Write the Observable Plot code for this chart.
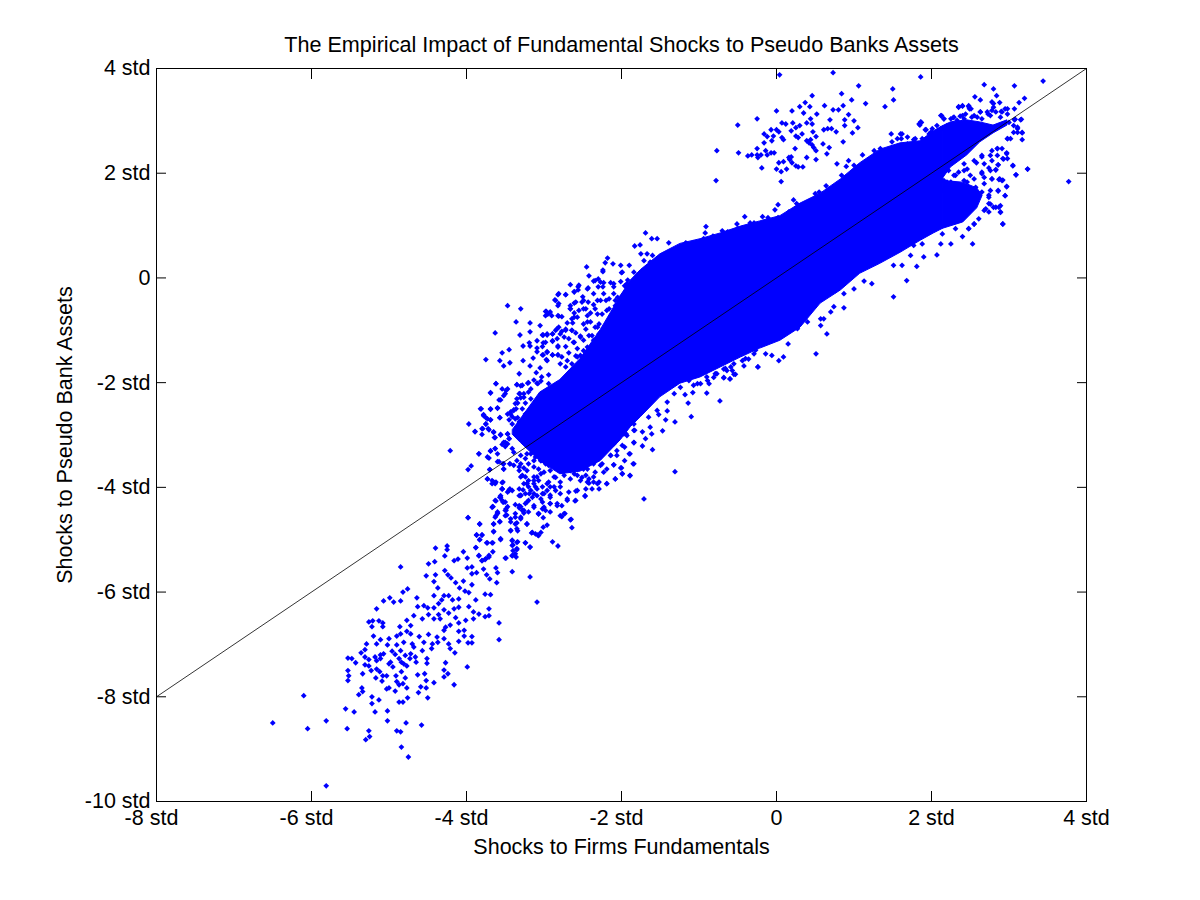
<!DOCTYPE html>
<html><head><meta charset="utf-8">
<script src="https://cdn.jsdelivr.net/npm/d3@7"></script>
<script src="https://cdn.jsdelivr.net/npm/@observablehq/plot@0.6"></script>
<style>html,body{margin:0;padding:0;background:#fff}svg{display:block}</style>
</head><body><div id="chart"></div>
<script>
const xTicks=[-8,-6,-4,-2,0,2,4];
const yTicks=[-10,-8,-6,-4,-2,0,2,4];
const titleText="The Empirical Impact of Fundamental Shocks to Pseudo Banks Assets";
const xLabel="Shocks to Firms Fundamentals";
const yLabel="Shocks to Pseudo Bank Assets";
const identityLine=[[-8,-8],[4,4]];

// The saturated core cannot be read point by point: its outline is estimated from the picture.
const coreX=[-3.40,-3.30,-3.05,-2.79,-2.53,-2.27,-2.01,-1.88,-1.75,-1.50,-1.24,-0.98,-0.72,-0.46,-0.21,0.05,0.31,0.57,0.83,1.08,1.34,1.60,1.86,2.03,2.15];
const coreTop=[-2.90,-2.70,-2.19,-1.95,-1.55,-1.00,-0.35,-0.05,0.15,0.45,0.65,0.74,0.85,0.98,1.08,1.18,1.42,1.61,1.88,2.19,2.45,2.57,2.61,2.80,2.90];
const coreBottom=[-3.00,-3.15,-3.50,-3.75,-3.70,-3.50,-3.10,-2.85,-2.66,-2.28,-2.02,-1.90,-1.71,-1.52,-1.35,-1.20,-0.95,-0.49,-0.24,0.08,0.27,0.48,0.71,0.85,0.94];
const upperLobeX=[2.15,2.25,2.46,2.63,2.80,2.98];
const upperLobeTop=[2.90,2.97,3.01,2.97,2.91,3.01];
const upperLobeBottom=[1.90,2.11,2.34,2.59,2.76,2.91];
const lowerLobeX=[2.15,2.41,2.59,2.66];
const lowerLobeTop=[1.85,1.82,1.71,1.57];
const lowerLobeBottom=[0.94,1.06,1.33,1.57];

const tailPoints=[[-6.50,-8.50],[-6.10,-7.98],[-6.05,-8.61],[-5.81,-8.46],[-5.81,-9.70],[-5.56,-8.23],[-5.54,-8.61],[-5.45,-8.29],[-5.39,-7.96],[-5.34,-7.90],[-5.35,-7.83],[-5.22,-8.00],[-5.22,-8.13],[-5.13,-8.06],[-5.18,-8.29],[-5.02,-8.27],[-5.02,-8.46],[-5.26,-8.65],[-5.25,-8.76],[-5.30,-8.82],[-4.90,-8.65],[-4.85,-8.67],[-4.78,-8.50],[-4.58,-8.54],[-4.84,-8.96],[-4.75,-9.15],[-4.87,-8.10],[-4.82,-8.10],[-4.76,-8.02],[-4.50,-8.02],[-4.62,-7.92],[-4.52,-7.83],[-4.59,-7.81],[-4.16,-7.77],[-4.42,-7.73],
[-4.85,-5.52],[-4.40,-5.16],[-4.25,-5.12],[-4.25,-5.19],[-4.28,-5.31],[-4.49,-5.46],[-4.41,-5.42],[-4.16,-5.40],[-4.11,-5.37],[-4.04,-5.23],[-3.99,-5.35],[-3.98,-4.58],[-3.87,-4.91],[-3.80,-4.91],[-3.83,-5.00],[-3.88,-5.15],[-3.74,-5.06],[-3.66,-5.06],[-3.84,-5.31],[-3.66,-5.23],[-3.71,-5.33],[-3.76,-5.38],[-3.80,-5.40],[-3.62,-5.54],[-3.60,-5.63],[-3.41,-5.61],[-3.78,-5.56],[-3.74,-5.67],[-3.70,-5.75],[-3.61,-5.82],[-3.18,-5.71],[-3.09,-6.19],[-3.58,-6.59],[-3.58,-6.91],[-3.49,-5.35],[-3.41,-5.31],[-3.36,-5.33],[-3.35,-5.19],[-3.18,-5.14],[-3.24,-5.06],[-3.34,-5.04],[-3.41,-5.02],[-3.40,-5.10],[-3.56,-5.00],[-3.65,-4.85],[-3.65,-4.70],[-3.57,-4.66],[-3.83,-4.70],[-3.62,-4.54],[-3.60,-4.49],[-3.48,-4.53],[-3.49,-4.41],[-3.66,-4.37],[-3.62,-4.26],[-3.56,-4.16],[-3.53,-4.28],[-3.45,-4.05],[-3.54,-4.03],[-3.65,-3.90],[-3.53,-3.90],[-3.43,-4.60],[-3.35,-4.68],[-3.30,-4.60],[-3.22,-4.70],[-3.43,-4.83],[-3.34,-4.83],[-3.16,-4.87],[-3.08,-4.91],[-3.32,-4.39],[-3.26,-4.49],[-3.32,-4.16],[-3.22,-4.28],[-3.13,-4.35],[-3.07,-4.51],[-3.27,-4.05],[-3.13,-4.12],[-3.22,-3.93],[-3.09,-4.03],
[-5.16,-6.32],[-5.07,-6.17],[-4.99,-6.11],[-4.94,-6.19],[-4.85,-6.17],[-4.82,-6.00],[-4.76,-5.94],[-4.64,-6.11],[-4.63,-6.28],[-4.55,-6.26],[-4.50,-6.30],[-4.52,-5.69],[-4.42,-5.80],[-4.40,-5.67],[-4.37,-5.92],[-4.28,-5.59],[-4.24,-5.67],[-4.20,-5.73],[-4.14,-5.82],[-4.09,-5.92],[-4.04,-5.79],[-3.93,-5.65],[-3.87,-5.63],[-3.99,-5.54],[-3.93,-5.52],[-3.93,-5.86],[-4.02,-5.98],[-3.97,-6.01],[-3.88,-6.15],[-3.76,-6.04],[-3.69,-6.05],[-3.97,-6.28],[-3.91,-6.38],[-3.84,-6.42],[-3.71,-6.32],[-3.71,-6.45],[-3.76,-6.47],[-3.91,-6.51],
[-4.42,-6.07],[-4.29,-6.07],[-4.32,-6.15],[-4.36,-6.22],[-4.42,-6.30],[-4.23,-6.07],[-4.18,-6.15],[-4.10,-6.13],[-4.16,-6.32],[-4.10,-6.29],[-4.23,-6.40],[-4.29,-6.34],[-4.36,-6.43],[-4.42,-6.51],[-4.49,-6.43],[-4.57,-6.51],[-4.68,-6.45],[-4.14,-6.49],[-4.01,-6.54],[-4.10,-6.59],[-4.21,-6.63],[-4.27,-6.67],[-4.34,-6.51],[-4.77,-6.54],[-4.72,-6.64],[-4.86,-6.66],[-5.26,-6.57],[-5.21,-6.55],[-5.13,-6.55],[-5.08,-6.59],[-5.22,-6.66],[-5.08,-6.66],
[-5.20,-6.84],[-5.29,-6.99],[-5.16,-6.99],[-5.11,-6.91],[-5.00,-6.89],[-5.02,-7.01],[-4.90,-6.84],[-4.85,-6.80],[-4.77,-6.75],[-4.72,-6.80],[-4.61,-6.85],[-4.49,-6.81],[-4.38,-6.86],[-4.29,-6.73],[-4.10,-6.75],[-4.03,-6.73],[-4.03,-6.84],[-3.93,-6.85],[-3.98,-6.97],[-3.93,-6.97],[-4.10,-6.94],[-4.23,-6.99],[-4.21,-7.08],[-4.15,-7.16],[-4.29,-6.89],
[-4.81,-6.96],[-4.70,-6.99],[-4.55,-6.96],[-4.44,-6.99],[-4.37,-6.96],[-4.57,-7.12],[-4.45,-7.08],[-4.68,-7.05],[-4.90,-7.01],[-4.85,-7.12],[-4.96,-7.13],[-4.92,-7.19],[-4.79,-7.21],[-4.72,-7.18],[-4.66,-7.24],[-4.73,-7.27],[-4.65,-7.34],[-4.51,-7.27],[-4.51,-7.36],[-4.27,-7.35],[-3.99,-7.43],[-4.29,-7.49],[-4.24,-7.56],[-4.29,-7.62],
[-5.53,-7.26],[-5.48,-7.27],[-5.43,-7.35],[-5.36,-7.16],[-5.31,-7.10],[-5.31,-7.24],[-5.26,-7.29],[-5.31,-7.39],[-5.26,-7.41],[-5.18,-7.24],[-5.11,-7.20],[-5.07,-7.18],[-5.16,-7.31],[-5.11,-7.27],[-4.98,-7.34],[-5.00,-7.37],[-4.95,-7.43],[-4.87,-7.27],[-4.84,-7.34],[-4.81,-7.37],[-4.77,-7.41],[-4.84,-7.52],[-5.53,-7.50],[-5.52,-7.60],[-5.53,-7.69],[-5.34,-7.56],[-5.23,-7.50],[-5.16,-7.47],[-5.12,-7.52],[-5.08,-7.60],[-5.17,-7.64],[-5.09,-7.70],[-5.03,-7.60],[-4.91,-7.60],[-4.79,-7.64],[-4.63,-7.58],[-4.54,-7.56],[-4.52,-7.69],[-4.90,-7.71],[-4.87,-7.77],[-4.82,-7.75],[-5.00,-7.83],[-5.03,-7.85],[-4.92,-7.89],[-4.77,-7.83]];

const bumpPoints=[[0.04,3.88],[0.73,3.92],[1.86,3.84],[1.06,3.67],[1.50,3.61],[0.84,3.52],[0.46,3.48],[0.97,3.40],[1.51,3.40],[1.15,3.33],[1.40,3.27],[0.37,3.35],[0.62,3.29],[0.86,3.29],[0.30,3.27],[0.43,3.27],[0.00,3.19],[0.20,3.19],[0.35,3.15],[0.52,3.13],[0.73,3.21],[0.80,3.21],[0.93,3.12],[-0.25,3.04],[-0.50,2.92],[0.44,3.04],[0.69,3.02],[0.88,3.02],[1.00,3.00],[0.07,2.96],[0.12,2.94],[0.21,2.96],[0.39,2.96],[0.46,2.94],[0.25,2.87],[0.30,2.91],[0.88,2.91],[1.05,2.87],[-0.07,2.83],[0.00,2.83],[0.03,2.79],[0.19,2.81],[0.61,2.83],[0.66,2.85],[0.71,2.85],[0.77,2.79],[0.47,2.79],[0.98,2.77],[-0.16,2.75],[-0.12,2.70],[-0.04,2.71],[0.07,2.68],[0.09,2.64],[0.25,2.71],[0.28,2.68],[0.33,2.75],[0.51,2.70],[-0.16,2.58],[-0.06,2.62],[0.39,2.62],[0.44,2.64],[0.42,2.58],[0.60,2.56],[0.86,2.60],[0.46,2.54],[-0.25,2.47],[0.24,2.47],[0.48,2.49],[0.68,2.49],[-0.77,2.43],[-0.49,2.39],[-0.14,2.43],[-0.07,2.39],[-0.03,2.39],[0.51,2.43],[-0.12,2.35],[-0.37,2.33],[-0.32,2.35],[-0.25,2.35],[-0.20,2.35],[-0.24,2.30],[0.65,2.37],[0.39,2.30],[0.16,2.30],[0.19,2.31],[0.51,2.26],[0.17,2.26],[0.03,2.20],[0.09,2.22],[0.20,2.20],[0.78,2.18],[-0.19,2.10],[0.00,2.08],[0.13,2.08],[0.25,2.14],[0.28,2.12],[0.34,2.12],[0.06,2.03],[-0.78,1.86],[0.06,1.84]];

const rightPoints=[[3.77,1.84],[3.44,3.76],[3.07,3.67],[2.68,3.69],[2.80,3.61],[2.84,3.48],[2.56,3.46],[2.63,3.40],[2.88,3.35],[3.20,3.43],[3.13,3.35],[3.07,3.23],[2.95,3.23],[3.24,2.08],[3.09,1.97],[3.05,2.14],[2.97,1.74],[2.95,1.57],[2.92,1.03],[2.89,1.26],[2.53,0.65],[2.40,0.79],[2.25,0.65],[2.07,0.44],[2.48,0.94],[2.31,0.94],[2.55,1.03],[3.17,2.64],[3.17,2.77],[3.11,2.85],[3.15,3.02],[3.07,3.02],[2.98,2.28],[2.98,2.66],[2.97,2.39],[2.92,2.28],[2.86,2.16],[2.83,2.07],[2.74,2.10],[2.78,1.89],[2.88,1.89],[2.92,1.87],[2.86,1.66],[2.74,1.58],[2.74,1.42],[2.80,1.35],[2.87,1.35],[2.68,1.29],[2.74,1.26],[2.68,1.80],[2.65,1.99],[2.55,1.89],[2.42,1.86],[2.31,1.96],[2.22,2.05],[2.29,1.80],[2.20,1.83],[2.46,2.08],[2.65,1.64],[2.78,2.24],[2.85,2.47],[2.65,2.31],[2.55,2.24],[2.42,2.18],[2.33,2.31]];

const lobePoints=[[2.13,3.10],[2.16,3.04],[1.87,2.97],[1.85,2.92],[1.92,2.83],[2.01,2.85],[2.01,2.78],[2.12,2.85],[2.18,2.88],[2.28,3.06],[2.27,2.94],[2.35,3.26],[2.40,3.28],[2.48,3.29],[2.51,3.23],[2.37,3.09],[2.44,3.13],[2.59,3.07],[2.63,3.17],[2.73,3.13],[2.78,3.20],[2.80,3.33],[2.90,3.18],[2.98,3.23],[2.98,3.13],[3.08,3.03],[3.16,3.03],[3.11,2.78],[3.17,2.78],[2.98,2.66],[1.78,2.64],[1.91,2.62],[2.03,2.69],
[2.49,3.23],[2.65,3.04],[2.76,3.10],[2.89,3.07],[3.00,2.97],[3.06,2.91],[3.06,2.78],[3.02,2.66],[3.11,2.88],[2.52,3.07],[2.83,3.17],[2.42,3.04],[2.33,3.01],[2.25,3.04],[2.20,2.91],[2.07,2.91],[1.97,2.75],[1.88,2.66],[1.79,2.66],[1.69,2.69],[1.62,2.75],[1.61,2.66],
[2.78,2.43],[2.85,2.47],[2.91,2.47],[2.97,2.37],[2.85,2.34],[2.93,2.27],[2.86,2.16],[3.05,2.15],[3.09,1.97],[3.24,2.08],[2.76,2.34],[2.65,2.34],[2.58,2.20],[2.68,2.18],[2.76,2.05],[2.83,2.06],[2.65,2.02],[2.68,1.92],[2.78,1.89],[2.87,1.88],[2.91,1.86],[2.97,1.75],[2.86,1.67],[2.95,1.57],[2.76,1.67],[2.74,1.54],[2.76,1.41],[2.83,1.35],[2.89,1.38],[2.70,1.32],[2.89,1.25],[2.92,1.03],[2.48,0.94],[2.55,1.03],[2.61,1.13],[2.50,1.96],[2.42,2.05],[2.35,2.02],[2.29,1.96],[2.46,1.83],[2.57,1.73],[2.48,1.73],[2.25,1.83],[2.16,1.86],[2.16,1.67],[2.35,1.73]];

const upperEdgePoints=[[2.12,3.10],[2.16,3.04],[2.35,3.27],[2.40,3.29],[2.48,3.27],[2.29,3.07],[2.40,3.10],[2.55,3.10],[2.63,3.17],[2.72,3.17],[2.78,3.36],[2.80,3.26],[2.91,3.17],[1.86,2.98],[1.84,2.94],[1.93,2.83],[1.99,2.78],[1.77,2.64],[1.90,2.63],[1.48,2.75],[1.60,2.75],[1.49,2.60],[1.56,2.66],[1.69,2.56],[1.34,2.47],[1.26,2.43],[1.11,2.35],[0.93,2.24],[0.90,2.13],[1.00,2.15],[0.84,1.96],[0.64,1.76],[0.74,1.73],[0.50,1.61],[0.55,1.64],[0.22,1.49],[0.26,1.42],[0.02,1.40],[-0.02,1.30],[-0.18,1.17],[-0.11,1.15],[0.02,1.15],[0.16,1.26],[-0.41,1.17],[-0.34,1.05],[-0.29,1.05],[-0.51,1.03],[-0.50,0.94],[-0.91,0.98],[-0.92,0.86],[-0.82,0.80],[-0.70,0.90],[-0.63,0.88],[-0.94,0.75],[-1.07,0.67],[-1.17,0.67],[-1.00,0.68],[-0.85,0.72],[-0.16,1.07],[-0.04,1.03],[0.35,1.38],[0.42,1.42],[0.68,1.70],
[-1.69,0.86],[-1.61,0.75],[-1.54,0.75],[-1.83,0.61],[-1.76,0.63],[-1.39,0.67],[-2.18,0.38],[-2.11,0.27],[-2.21,0.29],[-2.45,0.21],[-2.24,0.12],[-2.42,0.04],[-1.75,0.46],[-1.67,0.46],[-1.60,0.43],[-1.71,0.33],[-1.63,0.30],[-2.01,0.24],[-1.90,0.24],[-1.99,0.11],[-1.84,0.11],[-1.93,-0.11],[-2.10,-0.11],[-2.27,-0.08],[-2.34,-0.05],[-2.66,-0.13],[-2.55,-0.14],[-2.44,-0.21],[-2.61,-0.26],[-2.72,-0.32],[-2.82,-0.32],[-2.85,-0.43],[-2.82,-0.53],[-2.59,-0.46],[-2.66,-0.59],[-2.49,-0.43],[-2.31,-0.43],[-2.20,-0.43],[-2.08,-0.43],[-1.99,-0.34],[-2.46,-0.59],[-2.31,-0.69],[-2.19,-0.62],[-2.08,-0.62],[-2.61,-0.75],[-2.44,-0.84],[-2.31,-0.94],[-2.20,-0.94],[-2.10,-0.84],[-1.99,-0.81],[-2.97,-0.64],[-2.92,-0.65],[-2.98,-0.72],[-2.81,-0.73],[-2.72,-1.00],[-2.64,-1.00],[-2.83,-0.97],[-2.79,-1.07],[-2.53,-1.13],[-2.38,-1.10],[-2.61,-1.23],[-2.49,-1.39],[-2.57,-1.51],[-2.64,-1.64],[-2.72,-1.70],[-2.79,-1.64],[-2.36,-1.35],[-2.23,-1.42],[-2.10,-1.35]];

const speckleUpperPoints=[[-2.24,0.15],[-2.00,0.10],[-2.56,-0.17],[-2.56,-0.23],[-2.61,-0.27],[-2.43,-0.19],[-2.36,-0.06],[-2.30,-0.02],[-2.23,-0.09],[-2.30,-0.17],[-2.24,-0.17],[-2.14,-0.09],[-2.10,-0.17],[-2.01,-0.07],[-1.92,-0.04],[-1.96,-0.15],[-2.81,-0.30],[-2.72,-0.32],[-2.50,-0.36],[-2.36,-0.30],[-2.23,-0.30],[-2.10,-0.30],[-1.97,-0.30],[-2.86,-0.42],[-2.81,-0.49],[-2.61,-0.48],[-2.66,-0.53],[-2.51,-0.46],[-2.43,-0.46],[-2.36,-0.51],[-2.27,-0.43],[-2.16,-0.40],[-2.05,-0.37],[-1.92,-0.40],[-2.98,-0.64],[-2.95,-0.69],[-2.90,-0.72],[-2.82,-0.72],[-2.77,-0.74],[-2.66,-0.59],[-2.61,-0.67],[-2.55,-0.62],[-2.49,-0.59],[-2.40,-0.67],[-2.34,-0.59],[-2.25,-0.69],[-2.16,-0.59],[-2.08,-0.53],[-1.99,-0.62],[-2.64,-0.78],[-2.57,-0.75],[-2.44,-0.72],[-2.70,-0.86],[-2.63,-0.86],[-2.49,-0.88],[-2.40,-0.84],[-2.29,-0.88],[-2.14,-0.78],[-2.03,-0.75],[-2.81,-0.94],[-2.85,-1.00],[-2.77,-1.02],[-2.72,-0.98],[-2.64,-1.00],[-2.59,-1.05],[-2.46,-0.98],[-2.34,-0.94],[-2.19,-0.97],[-2.08,-0.91],[-3.02,-1.09],[-2.96,-1.09],[-2.89,-1.07],[-2.74,-1.13],[-2.68,-1.16],[-2.53,-1.11],[-2.42,-1.10],[-2.29,-1.07],[-2.14,-1.10],[-2.98,-1.23],[-2.89,-1.21],[-2.83,-1.16],[-2.62,-1.23],[-2.49,-1.19],[-2.36,-1.19],[-2.23,-1.16],[-3.02,-1.31],[-2.82,-1.30],[-2.72,-1.31],[-2.57,-1.35],[-2.68,-1.43],[-2.44,-1.32],[-2.96,-1.42],[-2.89,-1.47],[-2.82,-1.47],[-2.77,-1.51],[-2.70,-1.58],[-3.02,-1.47],[-2.59,-1.49],[-2.53,-1.48],[-2.36,-1.45],[-2.96,-1.58],[-2.49,-1.62]];

const lowerEdgePoints=[[1.51,-0.36],[1.68,-0.05],[1.23,-0.11],[0.51,-1.45],[0.65,-1.07],[0.87,-0.57],[0.74,-0.55],[0.70,-0.65],[0.57,-0.78],[0.61,-0.78],[0.57,-0.91],[-0.24,-1.70],[0.09,-1.51],[0.03,-1.58],[0.15,-1.26],[-0.06,-1.48],[-0.14,-1.45],[-0.53,-1.84],[-0.68,-1.91],[-0.60,-1.93],[-0.57,-1.77],[-0.66,-1.73],[-0.79,-1.83],[-0.90,-1.89],[-0.40,-1.54],[-0.27,-1.38],[0.40,-0.84],[0.27,-0.97],[1.13,-0.06],[1.00,-0.21],[0.87,-0.30],[0.76,-0.24],[1.51,0.24],[1.62,0.24],[1.81,0.22],[1.73,0.43],[1.90,0.40],[1.77,0.62],[1.88,0.65],[2.12,0.65],[2.14,0.84],
[-1.75,-2.56],[-1.65,-2.66],[-1.54,-2.53],[-1.41,-2.37],[-1.32,-2.21],[-1.24,-2.09],[-1.13,-1.96],[-1.02,-2.02],[-0.89,-1.96],[-0.81,-1.90],[-0.68,-1.74],[-0.55,-1.64],[-0.44,-1.58],[-0.29,-1.35],[-2.36,-3.30],[-2.23,-3.30],[-2.10,-3.17],[-1.97,-2.98],[-1.84,-2.79],[-2.44,-3.49],[-2.61,-3.49],[-2.74,-3.61],[-2.85,-3.49],[-2.94,-3.36]];

const leftScatterPoints=[[-4.21,-3.30],[-3.98,-3.66],[-3.94,-3.59],[-3.97,-2.79],[-3.89,-2.94],[-3.84,-3.36],[-3.79,-2.88],[-3.80,-2.99],[-3.75,-2.79],[-3.71,-2.90],[-3.65,-2.94],[-3.63,-3.05],[-3.81,-2.50],[-3.78,-2.61],[-3.75,-2.67],[-3.69,-2.71],[-3.69,-2.50],[-3.60,-2.48],[-3.57,-2.67],[-3.56,-2.99],[-3.69,-2.19],[-3.62,-2.02],[-3.56,-2.33],[-3.50,-2.21],[-3.47,-2.12],[-3.35,-2.04],[-3.30,-2.06],[-3.32,-1.83],[-3.75,-1.56],[-3.63,-1.05],[-3.54,-1.43],[-3.45,-1.37],[-3.57,-1.58],[-3.52,-1.68],[-3.44,-1.62],[-3.47,-0.53],[-3.30,-0.59],[-3.36,-0.84],[-3.18,-0.86],[-3.05,-0.91],[-3.31,-1.09],[-3.18,-1.03],[-3.27,-1.30],[-3.19,-1.24],[-3.18,-1.30],[-3.09,-1.20],[-3.27,-1.58],[-3.09,-1.34],[-3.01,-1.09],[-2.96,-1.07],[-2.89,-1.07],[-2.89,-1.20],[-3.01,-1.24],[-3.14,-1.53],[-3.09,-1.41],[-2.96,-1.41],[-3.01,-1.47],[-2.89,-1.47],[-2.82,-1.32],[-2.82,-1.47],[-2.97,-1.56],[-3.18,-1.68],[-3.10,-1.81],[-3.05,-1.72],[-3.03,-1.89],[-2.94,-1.85],[-3.20,-2.00],[-3.13,-1.95],[-3.08,-2.02],[-2.94,-2.02],[-3.17,-2.12],[-3.26,-2.21],[-3.32,-2.21],[-3.34,-2.39],[-3.30,-2.29],
[-3.36,-2.50],[-3.43,-2.60],[-3.45,-2.71],[-3.39,-2.52],[-3.28,-2.50],[-3.34,-2.67],[-3.41,-2.79],[-3.34,-2.90],[-3.27,-2.79],[-3.47,-2.98],[-3.45,-3.07],[-3.52,-3.14],[-3.47,-3.17],[-3.69,-3.30],[-3.63,-3.26],[-3.71,-3.44],[-3.58,-3.51],[-3.52,-3.55],[-3.44,-3.55],[-3.70,-3.66],[-3.52,-3.65],[-3.32,-3.61],[-3.73,-3.84],[-3.67,-3.93],[-3.62,-3.90],[-3.54,-4.03],[-3.45,-4.06],[-3.98,-4.58],[-3.56,-4.19],[-3.52,-4.28],[-3.67,-4.38],[-3.60,-4.50],[-3.49,-4.44],[-3.32,-4.35],[-3.26,-4.44],[-3.37,-4.50],[-3.30,-3.80],[-3.22,-3.93],[-3.30,-4.15],[-3.19,-4.12],[-3.13,-3.87]];

const speckleLowerPoints=[[-3.62,-2.02],[-3.54,-2.12],[-3.49,-2.15],[-3.69,-2.20],[-3.52,-2.25],[-3.58,-2.33],[-3.35,-2.04],[-3.28,-2.05],[-3.21,-2.01],[-3.09,-2.01],[-3.04,-1.97],[-3.31,-2.21],[-3.26,-2.28],[-3.35,-2.31],[-3.37,-2.40],[-3.20,-2.18],[-3.17,-2.31],[-3.24,-2.39],[-3.60,-2.49],[-3.69,-2.51],[-3.82,-2.50],[-3.57,-2.67],[-3.78,-2.63],[-3.73,-2.69],[-3.69,-2.71],[-3.47,-2.60],[-3.43,-2.56],[-3.39,-2.53],[-3.41,-2.65],[-3.37,-2.69],[-3.32,-2.75],[-3.28,-2.72],[-3.24,-2.60],[-3.17,-2.53],[-3.11,-2.44],[-3.09,-2.66],[-3.75,-2.79],[-3.80,-2.88],[-3.72,-2.88],[-3.65,-2.95],[-3.89,-2.93],[-3.56,-3.00],[-3.64,-3.05],[-3.47,-2.98],[-3.45,-3.07],[-3.50,-3.14],[-3.54,-3.18],[-3.50,-3.22],[-3.41,-3.26],[-3.39,-3.33],[-3.26,-3.14],[-3.22,-3.20],[-3.35,-2.85],[-3.30,-2.91],[-3.20,-2.85],[-3.13,-2.79],[-3.84,-3.36],[-3.69,-3.31],[-3.63,-3.26],[-3.60,-3.36],[-3.73,-3.42],[-3.60,-3.51],[-3.53,-3.55],[-3.44,-3.55],[-3.52,-3.65],[-3.70,-3.66],[-3.35,-3.49],[-3.30,-3.55],[-3.26,-3.63],[-3.39,-3.58],[-3.32,-3.68],[-3.28,-3.77],[-3.22,-3.68],[-3.73,-3.84],[-3.67,-3.87],[-3.63,-3.93],[-3.54,-3.91],[-3.54,-4.03],[-3.44,-4.03],[-3.47,-4.09],[-3.41,-4.06],[-3.32,-4.03],[-3.26,-3.93],[-3.20,-3.87],[-3.13,-3.80],[-3.07,-3.87],[-3.30,-4.16],[-3.24,-4.12],[-3.17,-4.06],[-3.11,-3.99],[-3.02,-3.99],[-2.94,-3.90],[-2.85,-3.81],[-2.74,-3.77],[-2.66,-3.68],[-3.20,-4.25],[-3.24,-4.31],[-3.15,-4.19],[-3.09,-4.16],[-3.00,-4.12],[-2.92,-4.19],[-2.85,-4.06],[-2.79,-4.12],[-2.68,-4.09],[-2.57,-4.06],[-2.46,-4.03],[-2.38,-4.03],[-2.29,-4.03],[-2.36,-3.90],[-2.44,-3.90],[-2.51,-3.81],[-2.42,-3.84],[-2.29,-3.90],[-2.19,-3.93],[-2.08,-3.84],[-2.19,-3.65],[-2.10,-3.57],[-1.99,-3.74],[-1.89,-3.77],[-2.00,-3.63],[-1.96,-3.49],[-1.84,-3.55],[-1.89,-3.36],[-2.06,-3.39],[-2.14,-3.39],[-1.84,-3.14],[-1.93,-3.01],[-1.83,-2.91],[-1.96,-3.23],[-3.63,-4.25],[-3.57,-4.19],[-3.54,-4.25],[-3.50,-4.28],[-3.66,-4.37],[-3.47,-4.37],[-3.50,-4.44],[-3.60,-4.47],[-3.63,-4.57],[-3.50,-4.54],[-3.37,-4.33],[-3.30,-4.37],[-3.28,-4.44],[-3.37,-4.57],[-3.30,-4.57],[-3.20,-4.47],[-3.13,-4.38],[-3.02,-4.28],[-3.02,-4.41],[-3.07,-4.50],[-2.98,-4.44],[-2.92,-4.47],[-2.92,-4.31],[-2.83,-4.35],[-2.77,-4.35],[-2.70,-4.22],[-2.60,-4.26],[-2.47,-4.17],[-2.77,-4.56],[-2.73,-4.50],[-2.66,-4.62],[-2.64,-4.77],[-3.01,-4.58],[-2.96,-4.72],[-3.01,-4.76],[-3.22,-4.70],[-3.43,-4.66],[-3.37,-4.70],[-3.57,-4.65],[-3.65,-4.70],[-3.83,-4.70],[-3.35,-4.79],[-3.43,-4.82],[-3.65,-4.84],[-3.87,-4.91],[-3.80,-4.91],[-3.83,-5.00],[-3.15,-4.86],[-3.11,-4.89],[-3.07,-4.92],[-3.04,-4.86],[-3.56,-4.98],[-3.41,-5.01],[-3.41,-5.11],[-3.35,-5.05],[-3.24,-5.06],[-3.18,-5.14],[-2.89,-5.04],[-2.82,-5.12],[-3.73,-5.06],[-3.67,-5.06],[-3.88,-5.15],[-3.40,-5.21],[-3.35,-5.17],[-3.71,-5.30],[-3.84,-5.30],[-3.50,-5.35],[-3.41,-5.30],[-3.37,-5.27],[-3.75,-5.36],[-3.80,-5.40],
[-3.30,-3.39],[-3.24,-3.45],[-3.17,-3.36],[-3.11,-3.42],[-3.04,-3.49],[-2.98,-3.55],[-3.20,-3.55],[-3.13,-3.61],[-3.07,-3.65],[-3.00,-3.71],[-2.92,-3.68],[-2.85,-3.61],[-2.79,-3.58],[-2.72,-3.65],[-2.61,-3.61],[-2.53,-3.55],[-2.44,-3.65],[-2.36,-3.55],[-2.25,-3.55],[-2.34,-3.71],[-2.46,-3.77],[-2.57,-3.77],[-2.66,-3.84],[-2.79,-3.90],[-2.87,-3.99],[-2.96,-4.06],[-3.09,-3.80],[-3.20,-3.99],[-3.24,-3.80],[-3.13,-3.93],[-3.02,-4.12],[-2.92,-3.99],[-2.79,-3.99]];

const lowerScatterPoints=[[-3.04,-3.74],[-2.96,-3.93],[-2.87,-3.80],[-2.79,-3.65],[-3.04,-3.49],[-2.94,-3.58],[-3.13,-3.49],[-3.22,-3.36],[-3.04,-4.22],[-2.92,-4.15],[-2.83,-4.31],[-3.00,-4.38],[-3.07,-4.50],[-2.79,-4.54],[-2.74,-4.50],[-2.65,-4.61],[-2.92,-4.31],[-2.70,-4.25],[-2.59,-4.25],[-2.47,-4.16],[-2.59,-4.07],[-2.42,-3.92],[-2.31,-3.93],[-2.19,-3.93],[-2.08,-3.84],[-1.99,-3.74],[-1.89,-3.78],[-2.01,-3.63],[-2.10,-3.57],[-1.85,-3.55],[-1.90,-3.36],[-1.71,-4.22],[-1.31,-3.70],[-1.60,-3.28],[-1.73,-3.21],[-1.69,-3.07],[-1.84,-3.15],[-1.61,-2.98],[-1.47,-2.92],[-1.31,-2.75],[-1.10,-2.65],[-1.14,-2.39],[-0.73,-2.35],[-0.90,-2.20],[-1.08,-2.19],[-1.18,-2.23],[-1.43,-2.71],[-1.52,-2.61],[-1.41,-2.54],[-1.63,-2.85],[-1.73,-2.94],[-1.84,-2.91],[-1.94,-2.98],[-2.27,-3.58],[-2.23,-3.71],[-2.36,-3.80],[-2.53,-3.87],[-2.61,-3.74],[-2.49,-3.65],[-2.06,-3.30],[-2.14,-3.39],[-1.99,-3.20],[-0.59,-1.70],[-0.55,-1.84],[-0.68,-1.90],[-0.42,-1.68],[-0.24,-1.70],[-0.29,-1.45],[-0.36,-1.55],[-0.64,-1.77],[-0.60,-1.93],[-0.77,-1.83],[-0.87,-2.02],[-0.98,-2.02],[-1.07,-2.05]];

const allPoints=[...tailPoints,...bumpPoints,...rightPoints,...lobePoints,...upperEdgePoints,...speckleUpperPoints,...lowerEdgePoints,...leftScatterPoints,...speckleLowerPoints,...lowerScatterPoints];
const table=(xs,tops,bottoms)=>xs.map((x,i)=>({x,top:tops[i],bottom:bottoms[i]}));
const band=(xs,tops,bottoms)=>Plot.areaY(table(xs,tops,bottoms),{x:"x",y1:"bottom",y2:"top",fill:"#0000ff",stroke:"#0000ff",strokeWidth:1});
const fontFamily='"Liberation Sans",Arial,sans-serif';
const fmt=d=>d===0?"0":`${d} std`;
const blank=()=>"";
const negativeX=xTicks.filter(d=>d<0);
const otherX=xTicks.filter(d=>d>=0);

const chart=Plot.plot({
  width:1200,height:900,marginLeft:156,marginRight:114,marginTop:68,marginBottom:99,
  style:{fontFamily,fontSize:"21px",color:"#000",background:"#fff"},
  x:{domain:[-8,4]},y:{domain:[-10,4]},
  marks:[
    band(coreX,coreTop,coreBottom),
    band(upperLobeX,upperLobeTop,upperLobeBottom),
    band(lowerLobeX,lowerLobeTop,lowerLobeBottom),
    Plot.dot(allPoints,{x:d=>d[0],y:d=>d[1],r:2.6,symbol:"diamond2",fill:"#0000ff",stroke:"none"}),
    Plot.line(identityLine,{x:d=>d[0],y:d=>d[1],stroke:"#000",strokeWidth:0.8}),
    Plot.frame({stroke:"#000",strokeWidth:1}),
    Plot.axisX(xTicks,{anchor:"bottom",tickSize:-10,tickFormat:blank,label:null}),
    Plot.axisX(negativeX,{anchor:"bottom",tickSize:0,tickPadding:8,dx:-5,tickFormat:fmt,label:null,fontSize:21.5}),
    Plot.axisX(otherX,{anchor:"bottom",tickSize:0,tickPadding:8,tickFormat:fmt,label:xLabel,labelAnchor:"center",labelArrow:"none",labelOffset:52,fontSize:21.5}),
    Plot.axisX(xTicks,{anchor:"top",tickSize:-10,tickFormat:blank,label:null}),
    Plot.axisY(yTicks,{anchor:"left",tickSize:-10,tickPadding:16,tickFormat:fmt,label:yLabel,labelAnchor:"center",labelArrow:"none",labelOffset:100,fontSize:21.5}),
    Plot.axisY(yTicks,{anchor:"right",tickSize:-10,tickFormat:blank,label:null}),
    Plot.text([titleText],{frameAnchor:"top",dy:-32,fontSize:21.6,fill:"#000"})
  ]
});
document.getElementById("chart").append(chart);
</script></body></html>
